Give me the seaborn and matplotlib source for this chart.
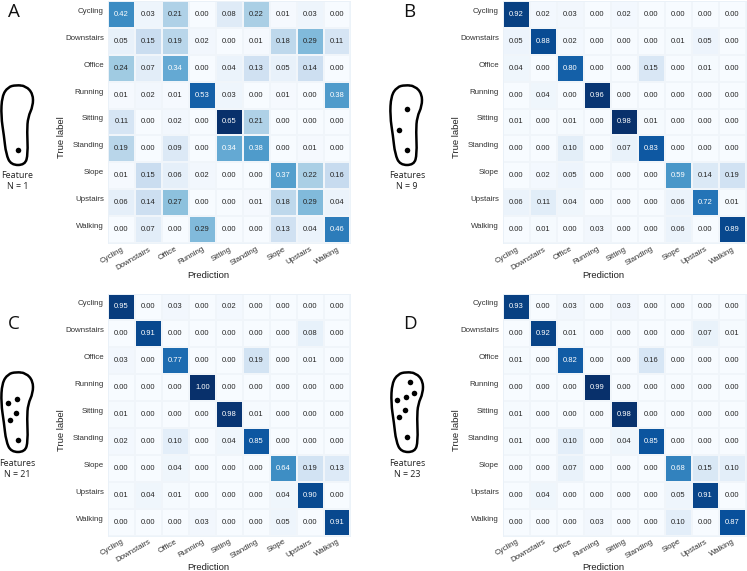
import matplotlib
matplotlib.use("Agg")
import matplotlib.pyplot as plt
import matplotlib.transforms as mtrans
import pandas as pd
import seaborn as sns
from matplotlib.path import Path
from matplotlib.patches import PathPatch

labels = ["Cycling", "Downstairs", "Office", "Running", "Sitting", "Standing", "Slope", "Upstairs", "Walking"]

cm_a = [[0.42, 0.03, 0.21, 0.00, 0.08, 0.22, 0.01, 0.03, 0.00],
        [0.05, 0.15, 0.19, 0.02, 0.00, 0.01, 0.18, 0.29, 0.11],
        [0.24, 0.07, 0.34, 0.00, 0.04, 0.13, 0.05, 0.14, 0.00],
        [0.01, 0.02, 0.01, 0.53, 0.03, 0.00, 0.01, 0.00, 0.38],
        [0.11, 0.00, 0.02, 0.00, 0.65, 0.21, 0.00, 0.00, 0.00],
        [0.19, 0.00, 0.09, 0.00, 0.34, 0.38, 0.00, 0.01, 0.00],
        [0.01, 0.15, 0.06, 0.02, 0.00, 0.00, 0.37, 0.22, 0.16],
        [0.06, 0.14, 0.27, 0.00, 0.00, 0.01, 0.18, 0.29, 0.04],
        [0.00, 0.07, 0.00, 0.29, 0.00, 0.00, 0.13, 0.04, 0.46]]

cm_b = [[0.92, 0.02, 0.03, 0.00, 0.02, 0.00, 0.00, 0.00, 0.00],
        [0.05, 0.88, 0.02, 0.00, 0.00, 0.00, 0.01, 0.05, 0.00],
        [0.04, 0.00, 0.80, 0.00, 0.00, 0.15, 0.00, 0.01, 0.00],
        [0.00, 0.04, 0.00, 0.96, 0.00, 0.00, 0.00, 0.00, 0.00],
        [0.01, 0.00, 0.01, 0.00, 0.98, 0.01, 0.00, 0.00, 0.00],
        [0.00, 0.00, 0.10, 0.00, 0.07, 0.83, 0.00, 0.00, 0.00],
        [0.00, 0.02, 0.05, 0.00, 0.00, 0.00, 0.59, 0.14, 0.19],
        [0.06, 0.11, 0.04, 0.00, 0.00, 0.00, 0.06, 0.72, 0.01],
        [0.00, 0.01, 0.00, 0.03, 0.00, 0.00, 0.06, 0.00, 0.89]]

cm_c = [[0.95, 0.00, 0.03, 0.00, 0.02, 0.00, 0.00, 0.00, 0.00],
        [0.00, 0.91, 0.00, 0.00, 0.00, 0.00, 0.00, 0.08, 0.00],
        [0.03, 0.00, 0.77, 0.00, 0.00, 0.19, 0.00, 0.01, 0.00],
        [0.00, 0.00, 0.00, 1.00, 0.00, 0.00, 0.00, 0.00, 0.00],
        [0.01, 0.00, 0.00, 0.00, 0.98, 0.01, 0.00, 0.00, 0.00],
        [0.02, 0.00, 0.10, 0.00, 0.04, 0.85, 0.00, 0.00, 0.00],
        [0.00, 0.00, 0.04, 0.00, 0.00, 0.00, 0.64, 0.19, 0.13],
        [0.01, 0.04, 0.01, 0.00, 0.00, 0.00, 0.04, 0.90, 0.00],
        [0.00, 0.00, 0.00, 0.03, 0.00, 0.00, 0.05, 0.00, 0.91]]

cm_d = [[0.93, 0.00, 0.03, 0.00, 0.03, 0.00, 0.00, 0.00, 0.00],
        [0.00, 0.92, 0.01, 0.00, 0.00, 0.00, 0.00, 0.07, 0.01],
        [0.01, 0.00, 0.82, 0.00, 0.00, 0.16, 0.00, 0.00, 0.00],
        [0.00, 0.00, 0.00, 0.99, 0.00, 0.00, 0.00, 0.00, 0.00],
        [0.01, 0.00, 0.00, 0.00, 0.98, 0.00, 0.00, 0.00, 0.00],
        [0.01, 0.00, 0.10, 0.00, 0.04, 0.85, 0.00, 0.00, 0.00],
        [0.00, 0.00, 0.07, 0.00, 0.00, 0.00, 0.68, 0.15, 0.10],
        [0.00, 0.04, 0.00, 0.00, 0.00, 0.00, 0.05, 0.91, 0.00],
        [0.00, 0.00, 0.00, 0.03, 0.00, 0.00, 0.10, 0.00, 0.87]]

W, H = 747, 571

# foot outline control points, pixels relative to top of the icon
foot_outline = [(15, -1), (25, 0), (32, 8), (32, 20), (27, 31), (26, 45), (27, 68), (24, 79),
                (10, 79), (5, 68), (3, 50), (0, 30), (1, 10), (7, 1)]
dots_a = [(17, 64)]
dots_b = [(17, 23), (9, 44), (17, 64)]
dots_c = [(16, 26), (7, 30), (15, 40), (9, 47), (17, 67)]
dots_d = [(19, 9), (23, 20), (15, 24), (6, 27), (14, 37), (8, 44), (16, 64)]


def draw_heatmap(fig, cm, left, top):
    # axes position given in pixels from the top left of the figure
    ax = fig.add_axes([left / W, 1 - (top + 242) / H, 242.5 / W, 242 / H])
    df = pd.DataFrame(cm, index=labels, columns=labels)
    sns.heatmap(df, ax=ax, annot=True, fmt=".2f", cmap="Blues", cbar=False, square=False,
                linewidths=0.3, linecolor="#f0f5fa", annot_kws={"size": 5.5})
    ax.tick_params(axis="both", length=0, labelsize=5.7, labelcolor="#333333", pad=3)
    ax.tick_params(axis="x", pad=2)
    ax.set_xticklabels(labels, rotation=30, ha="right", rotation_mode="anchor")
    ax.set_yticklabels(labels, rotation=0, va="center")
    shift_up = mtrans.ScaledTranslation(0, 3 / 100, fig.dpi_scale_trans)
    for lab in ax.get_yticklabels():
        lab.set_transform(lab.get_transform() + shift_up)
    ax.set_xlabel("Prediction", fontsize=6.8, color="#222222")
    ax.set_ylabel("True label", fontsize=6.8, color="#222222")
    ax.xaxis.set_label_coords(0.412, -0.115)
    ax.yaxis.set_label_coords(-0.172, 0.437)
    for s in ax.spines.values():
        s.set_visible(True)
        s.set_color("#e9f1f8")
        s.set_linewidth(0.6)
    return ax


def draw_foot(overlay, x0, y0, dots):
    pts = [(x0 + p[0], y0 + p[1]) for p in foot_outline]
    n = len(pts)
    # smooth closed curve through the midpoints of the outline
    verts = [((pts[0][0] + pts[1][0]) / 2, (pts[0][1] + pts[1][1]) / 2)]
    codes = [Path.MOVETO]
    for i in range(1, n + 1):
        p = pts[i % n]
        q = pts[(i + 1) % n]
        verts += [p, ((p[0] + q[0]) / 2, (p[1] + q[1]) / 2)]
        codes += [Path.CURVE3, Path.CURVE3]
    overlay.add_patch(PathPatch(Path(verts, codes), fill=False, ec="black", lw=1.8))
    overlay.scatter([x0 + d[0] for d in dots], [y0 + d[1] for d in dots], s=16, c="black", lw=0)


sns.set_theme(style="white")
plt.rcParams["font.family"] = ["Liberation Sans", "DejaVu Sans"]
fig = plt.figure(figsize=(W / 100, H / 100), dpi=100)

draw_heatmap(fig, cm_a, 108, 1)
draw_heatmap(fig, cm_b, 503, 1)
draw_heatmap(fig, cm_c, 108, 293.5)
draw_heatmap(fig, cm_d, 503, 293.5)

overlay = fig.add_axes([0, 0, 1, 1], facecolor="none")
overlay.set_xlim(0, W)
overlay.set_ylim(H, 0)
overlay.axis("off")

draw_foot(overlay, 1, 86, dots_a)
draw_foot(overlay, 390, 86, dots_b)
draw_foot(overlay, 1, 373, dots_c)
draw_foot(overlay, 391, 373, dots_d)

for txt, x, y in [("A", 14, 10), ("B", 409, 10), ("C", 14, 322), ("D", 410, 322)]:
    overlay.text(x, y, txt, fontsize=13.5, ha="center", va="center_baseline", family="Open Sans", color="#111111")

for txt, x, y in [("Feature\nN = 1", 17.5, 181), ("Features\nN = 9", 407, 181),
                  ("Features\nN = 21", 17, 469), ("Features\nN = 23", 407, 469)]:
    overlay.text(x, y, txt, fontsize=6.4, ha="center", va="center", family="Open Sans",
                 color="#222222", linespacing=1.3)

fig.savefig("out.png", dpi=100)
